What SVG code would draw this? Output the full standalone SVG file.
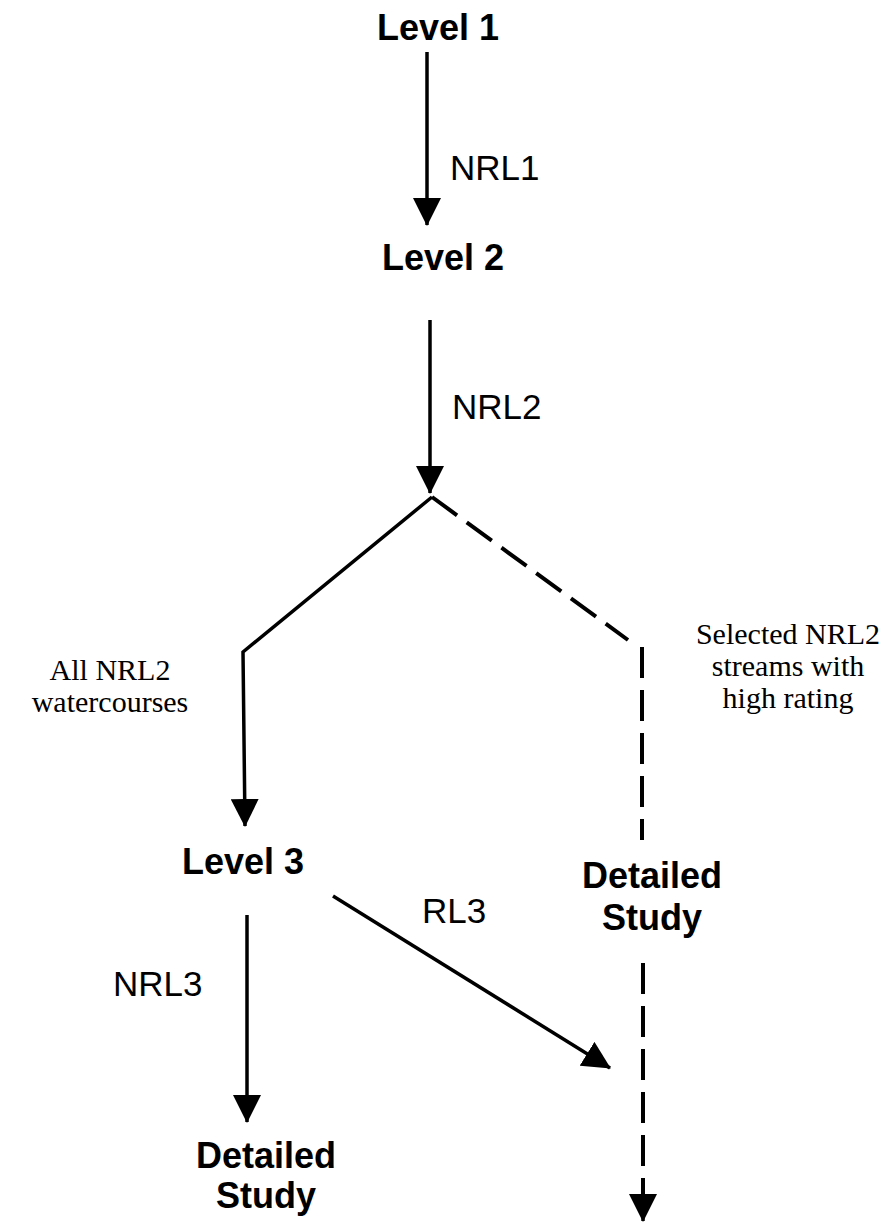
<svg xmlns="http://www.w3.org/2000/svg" width="891" height="1222" viewBox="0 0 891 1222">
<style>
.bold{font-family:"Liberation Sans",Arial,sans-serif;font-weight:bold;font-size:36px;fill:#000;text-anchor:middle}
.lab{font-family:"Liberation Sans",Arial,sans-serif;font-size:35px;fill:#000}
.serif{font-family:"Liberation Serif","Times New Roman",serif;font-size:30px;fill:#000;text-anchor:middle}
.ln{stroke:#000;stroke-width:3.5;fill:none}
.dash{stroke:#000;stroke-width:4;fill:none;stroke-dasharray:31 12}
</style>
<defs>
<marker id="ah" markerUnits="userSpaceOnUse" markerWidth="28" markerHeight="28" viewBox="0 0 28 28" refX="27" refY="14" orient="auto">
<path d="M0,0 L28,14 L0,28 Z" fill="#000"/>
</marker>
</defs>
<rect width="891" height="1222" fill="#fff"/>
<g id="connectors">
<line class="ln" x1="427" y1="52" x2="427" y2="225" marker-end="url(#ah)"/>
<line class="ln" x1="430" y1="320" x2="430" y2="493" marker-end="url(#ah)"/>
<polyline class="ln" points="432,497 243,652 245,826" marker-end="url(#ah)"/>
<line class="dash" x1="432" y1="497" x2="628" y2="640"/>
<line class="dash" x1="642" y1="647" x2="642" y2="840"/>
<line class="dash" x1="643" y1="963" x2="643" y2="1200"/>
<line class="ln" x1="643" y1="1195" x2="643" y2="1221" marker-end="url(#ah)"/>
<line class="ln" x1="247" y1="915" x2="247" y2="1122" marker-end="url(#ah)"/>
<line class="ln" x1="333" y1="896" x2="610" y2="1068" marker-end="url(#ah)"/>
<text class="lab" x="450" y="180">NRL1</text>
<text class="lab" x="452" y="419">NRL2</text>
<text class="lab" x="113" y="996">NRL3</text>
<text class="lab" x="422" y="923" font-size="34">RL3</text>
<text class="serif" x="110" y="680">All NRL2</text>
<text class="serif" x="110" y="712">watercourses</text>
<text class="serif" x="788" y="644">Selected NRL2</text>
<text class="serif" x="788" y="676">streams with</text>
<text class="serif" x="788" y="708">high rating</text>
</g>
<g id="level1"><text class="bold" x="438" y="40">Level 1</text></g>
<g id="level2"><text class="bold" x="443" y="270">Level 2</text></g>
<g id="level3"><text class="bold" x="243" y="874">Level 3</text></g>
<g id="detailed-right"><text class="bold" x="652" y="888">Detailed</text><text class="bold" x="652" y="930">Study</text></g>
<g id="detailed-left"><text class="bold" x="266" y="1168">Detailed</text><text class="bold" x="266" y="1208">Study</text></g>
</svg>
